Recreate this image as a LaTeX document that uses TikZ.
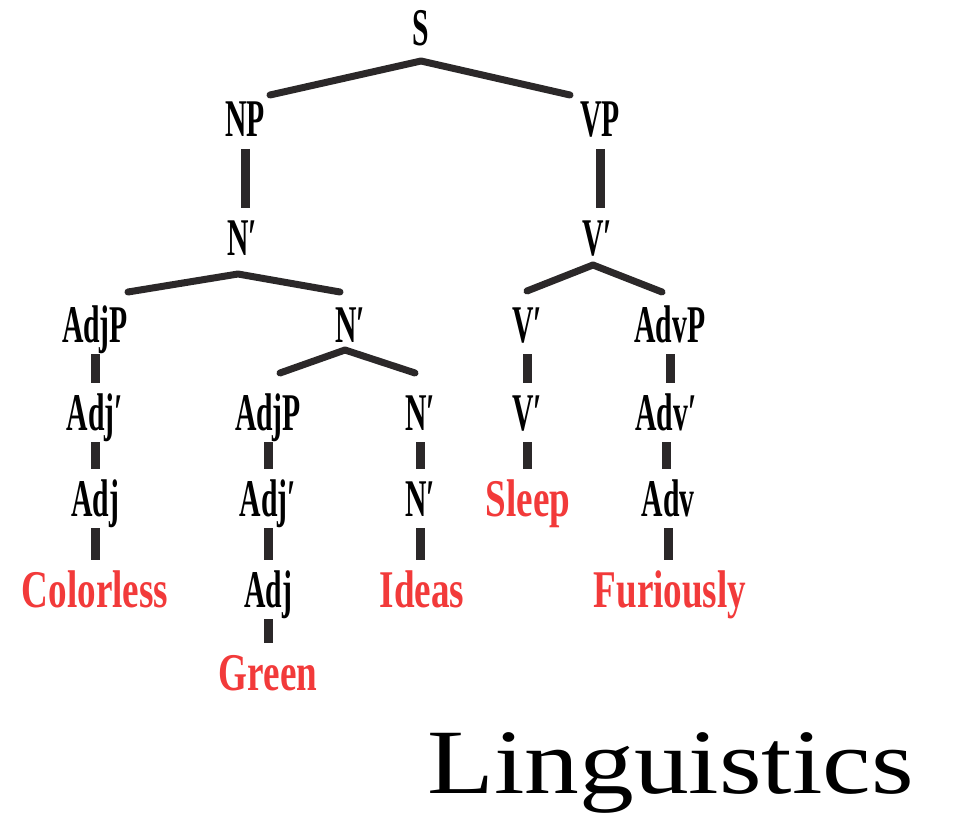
\documentclass[tikz,border=0pt]{standalone}
\usepackage{fontspec}
\newfontfamily\treefont{Liberation Serif}[FakeStretch=0.56]
\newfontfamily\wordfont{Liberation Serif}[FakeStretch=0.7]
\newfontfamily\titlefont{Liberation Serif}[FakeStretch=1.19]
\definecolor{branchgray}{HTML}{2B2829}
\definecolor{wordred}{HTML}{F23A3A}
\newcommand{\pr}{\char"2032}
\tikzset{
  cat/.style={anchor=base, inner sep=0pt, outer sep=0pt, text height=35pt, text depth=0pt,
    font=\treefont\bfseries\fontsize{53}{53}\selectfont, text=black},
  word/.style={cat, text=wordred, font=\wordfont\bfseries\fontsize{53}{53}\selectfont},
  branch/.style={draw=branchgray, line width=7pt, line cap=round, line join=round},
  stem/.style={draw=branchgray, line width=9pt, shorten <=12pt, shorten >=12pt}
}
\begin{document}
\begin{tikzpicture}[x=1pt, y=-1pt]
\useasboundingbox (0,0) rectangle (959,824);
% categories, placed at their baselines
\node[cat] (S) at (421,46) {S};
\node[cat] (NP) at (245,137) {NP};
\node[cat] (VP) at (600,137) {VP};
\node[cat] (N1) at (242,255) {N\pr};
\node[cat] (V1) at (597,255) {V\pr};
\node[cat] (AdjP1) at (95,342) {AdjP};
\node[cat] (N2) at (350,342) {N\pr};
\node[cat] (V2) at (527,342) {V\pr};
\node[cat] (AdvP) at (670,342) {AdvP};
\node[cat] (Adjb1) at (95,430) {Adj\pr};
\node[cat] (AdjP2) at (268,430) {AdjP};
\node[cat] (N3) at (420,430) {N\pr};
\node[cat] (V3) at (527,430) {V\pr};
\node[cat] (Advb) at (666,430) {Adv\pr};
\node[cat] (Adj1) at (95,516) {Adj};
\node[cat] (Adjb2) at (268,516) {Adj\pr};
\node[cat] (N4) at (420,516) {N\pr};
\node[word] (Sleep) at (528,516) {Sleep};
\node[cat] (Adv) at (668,516) {Adv};
\node[word] (Colorless) at (95,607) {Colorless};
\node[cat] (Adj2) at (268,607) {Adj};
\node[word] (Ideas) at (422,607) {Ideas};
\node[word] (Furiously) at (670,607) {Furiously};
\node[word] (Green) at (268,690) {Green};

% forks
\draw[branch] ([xshift=25pt,yshift=7pt]NP.north) -- ([yshift=-15pt]S.south) -- ([xshift=-30pt,yshift=7pt]VP.north);
\draw[branch] ([xshift=33pt,yshift=15pt]AdjP1.north) -- ([xshift=-4pt,yshift=-19pt]N1.south) -- ([xshift=-10pt,yshift=15pt]N2.north);
\draw[branch] ([yshift=16pt]V2.north) -- ([xshift=-4pt,yshift=-10pt]V1.south) -- ([xshift=-8pt,yshift=15pt]AdvP.north);
\draw[branch] ([xshift=12pt,yshift=22pt]AdjP2.north) -- ([xshift=-5pt,yshift=-8pt]N2.south) -- ([xshift=-5pt,yshift=22pt]N3.north);

% unary stems
\foreach \a/\b in {NP/N1, VP/V1, AdjP1/Adjb1, Adjb1/Adj1, Adj1/Colorless,
                   AdjP2/Adjb2, Adjb2/Adj2, Adj2/Green, N3/N4, N4/Ideas,
                   V2/V3, V3/Sleep, AdvP/Advb, Advb/Adv, Adv/Furiously}
  \draw[stem] (\a.south) -- (\a.south |- \b.north);

% caption
\node[anchor=base west, inner sep=0pt, font=\titlefont\fontsize{92}{92}\selectfont] (title) at (427,793) {Linguistics};
\end{tikzpicture}
\end{document}
